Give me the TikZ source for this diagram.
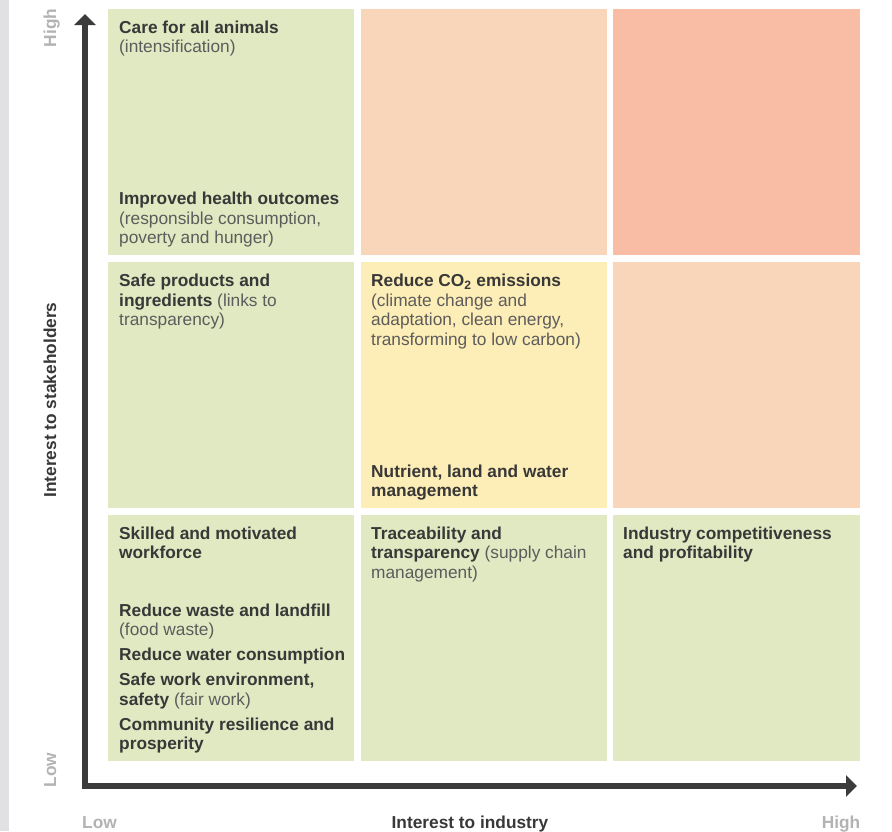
\documentclass[tikz,border=0pt]{standalone}
\usepackage{fontspec}
\setmainfont{Liberation Sans}
\usetikzlibrary{arrows.meta}

\definecolor{cellgreen}{HTML}{E0E9C2}
\definecolor{cellpeach}{HTML}{F9D6BA}
\definecolor{cellsalmon}{HTML}{F9BDA5}
\definecolor{cellyellow}{HTML}{FDEDB6}
\definecolor{stripgrey}{HTML}{E1E1E3}
\definecolor{axisdark}{HTML}{3B3B3B}
\definecolor{headtxt}{HTML}{383838}
\definecolor{bodytxt}{HTML}{5C5C5C}
\definecolor{ticktxt}{HTML}{B3B3B5}

% bold topic name inside a cell
\newcommand\topic[1]{{\bfseries\color{headtxt}#1}}
% text block of a cell, aligned on its first baseline
\newcommand\cellbox[1]{\parbox[t]{236pt}{\raggedright\leavevmode #1}}

\begin{document}
\begin{tikzpicture}[x=1pt,y=-1pt,
  cell/.style={rectangle, draw=none, inner sep=0pt, anchor=north west,
               minimum width=246.2pt, minimum height=246pt},
  entry/.style={inner sep=0pt, anchor=base west, text=bodytxt,
                font=\fontsize{17.3}{19.5}\selectfont},
  axisline/.style={line width=6pt, draw=axisdark,
                   {Triangle[length=11pt,width=21pt]}-{Triangle[length=11pt,width=21pt]}},
  tick/.style={inner sep=0pt, text=ticktxt, font=\fontsize{17.3}{19.5}\selectfont\bfseries},
  axislabel/.style={inner sep=0pt, text=headtxt, font=\fontsize{17.3}{19.5}\selectfont\bfseries}]

\useasboundingbox (0,0) rectangle (892,831);
\fill[white] (0,0) rectangle (892,831);
\fill[stripgrey] (0,0) rectangle (9,831);

% grid of cells: rows from top (high) to bottom (low), columns left (low) to right (high)
\node[cell, fill=cellgreen]  (c11) at (108,9)   {};
\node[cell, fill=cellpeach]  (c12) at (360.6,9) {};
\node[cell, fill=cellsalmon] (c13) at (613.2,9) {};
\node[cell, fill=cellgreen]  (c21) at (108,262)   {};
\node[cell, fill=cellyellow] (c22) at (360.6,262) {};
\node[cell, fill=cellpeach]  (c23) at (613.2,262) {};
\node[cell, fill=cellgreen]  (c31) at (108,515)   {};
\node[cell, fill=cellgreen]  (c32) at (360.6,515) {};
\node[cell, fill=cellgreen]  (c33) at (613.2,515) {};

% axes
\coordinate (origin) at (85,786);
\coordinate (ytip) at (85,14);
\coordinate (xtip) at (857,786);
\draw[axisline] (ytip) -- (origin) -- (xtip);

% cell contents
\node[entry] (t11a) at (119,33) {\cellbox{\topic{Care for all animals}\\(intensification)}};
\node[entry] (t11b) at (119,204.5) {\cellbox{\topic{Improved health outcomes}\\(responsible consumption,\\poverty and hunger)}};
\node[entry] (t21) at (119,286.5) {\cellbox{\topic{Safe products and}\\\topic{ingredients} (links to\\transparency)}};
\node[entry] (t22a) at (371,286.5) {\cellbox{\topic{Reduce CO\textsubscript{2} emissions}\\(climate change and\\adaptation, clean energy,\\transforming to low carbon)}};
\node[entry] (t22b) at (371,477) {\cellbox{\topic{Nutrient, land and water}\\\topic{management}}};
\node[entry] (t31a) at (119,539) {\cellbox{\topic{Skilled and motivated}\\\topic{workforce}}};
\node[entry] (t31b) at (119,616) {\cellbox{\topic{Reduce waste and landfill}\\(food waste)\\[5.5pt]
  \topic{Reduce water consumption}\\[5.5pt]
  \topic{Safe work environment,}\\\topic{safety} (fair work)\\[5.5pt]
  \topic{Community resilience and}\\\topic{prosperity}}};
\node[entry] (t32) at (371,539) {\cellbox{\topic{Traceability and}\\\topic{transparency} (supply chain\\management)}};
\node[entry] (t33) at (623,539) {\cellbox{\topic{Industry competitiveness}\\\topic{and profitability}}};

% axis labels
\node[tick, rotate=90, anchor=base] (yhigh) at (56,28) {High};
\node[tick, rotate=90, anchor=base] (ylow) at (56,770) {Low};
\node[axislabel, rotate=90, anchor=base] (ytitle) at (56,400) {Interest to stakeholders};
\node[tick, anchor=base west] (xlow) at (82,828.5) {Low};
\node[tick, anchor=base east] (xhigh) at (860.5,828.5) {High};
\node[axislabel, anchor=base] (xtitle) at (470,828.5) {Interest to industry};
\end{tikzpicture}
\end{document}
